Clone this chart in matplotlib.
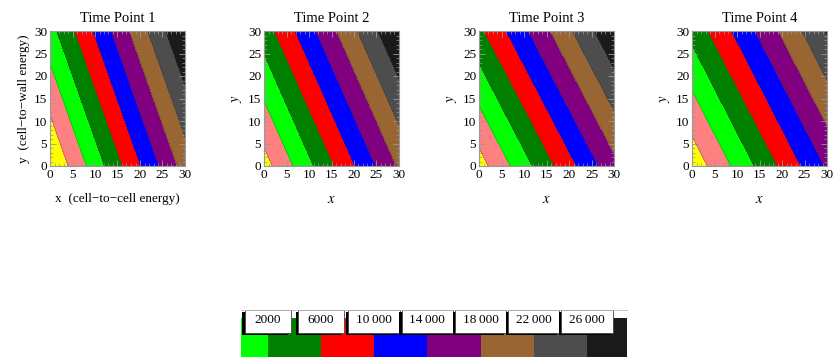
import numpy as np
import matplotlib.pyplot as plt
from matplotlib.colors import ListedColormap, BoundaryNorm
from matplotlib.patches import Rectangle
from matplotlib.ticker import MultipleLocator
import matplotlib.transforms as mtransforms

plt.rcParams['font.family'] = ['Liberation Serif', 'DejaVu Serif']
plt.rcParams['mathtext.fontset'] = 'stix'

W, H = 833, 357

titles = ['Time Point 1', 'Time Point 2', 'Time Point 3', 'Time Point 4']
# energy = a*x + b*y + c for each time point
coef_x = [990, 870, 816, 770]
coef_y = [350, 385, 425, 395]
offset = [0, 2400, 2300, 1350]

levels = [4000, 8000, 12000, 16000, 20000, 24000, 28000, 32000, 36000]
band_colors = ['#FFFF00', '#FF8080', '#00FF00', '#008000', '#FF0000',
               '#0000FF', '#800080', '#996633', '#4D4D4D', '#1A1A1A']

legend_edges = [0, 2000, 6000, 10000, 14000, 18000, 22000, 26000, 29000]
legend_colors = band_colors[2:]
legend_labels = ['2000', '6000', '10\u2009000', '14\u2009000', '18\u2009000',
                 '22\u2009000', '26\u2009000']

# axes left edges in pixels
panel_left = [50, 264, 479, 692]

fig = plt.figure(figsize=(W / 100, H / 100), dpi=100)

x = np.linspace(0, 30, 301)
X, Y = np.meshgrid(x, x)
bounds = [-1e9] + levels + [1e9]
cmap = ListedColormap(band_colors)
norm = BoundaryNorm(bounds, cmap.N)

for i in range(4):
    ax = fig.add_axes([panel_left[i] / W, (H - 166) / H, 135 / W, 135 / H])
    Z = coef_x[i] * X + coef_y[i] * Y + offset[i]
    ax.contourf(X, Y, Z, levels=bounds, cmap=cmap, norm=norm)
    ax.contour(X, Y, Z, levels=levels, colors='#333333', linewidths=0.3, alpha=0.6)
    ax.set_xlim(0, 30)
    ax.set_ylim(0, 30)
    ax.set_xticks([0, 5, 10, 15, 20, 25, 30])
    ax.set_yticks([0, 5, 10, 15, 20, 25, 30])
    ax.xaxis.set_minor_locator(MultipleLocator(1))
    ax.yaxis.set_minor_locator(MultipleLocator(1))
    ax.tick_params(which='both', direction='in', top=True, right=True,
                   color='#999999', labelsize=9.5, pad=2)
    ax.tick_params(which='major', length=4, width=0.6)
    ax.tick_params(which='minor', length=2, width=0.5)
    for s in ax.spines.values():
        s.set_color('#999999')
        s.set_linewidth(0.8)
    ax.set_title(titles[i], fontsize=10.5, pad=6.5)
    if i == 0:
        ax.set_xlabel('x  (cell\u2212to\u2212cell energy)', fontsize=9.5, labelpad=9)
        ax.set_ylabel('y  (cell\u2212to\u2212wall energy)', fontsize=9.5, labelpad=3)
    else:
        ax.set_xlabel('$x$', fontsize=10.5, labelpad=8.5)
        ax.set_ylabel('$y$', fontsize=10.5, labelpad=3)

# legend bar
lax = fig.add_axes([241 / W, 0, 386 / W, 39 / H])
lax.pcolormesh(legend_edges, [0, 1], np.arange(len(legend_colors))[None, :],
               cmap=ListedColormap(legend_colors), shading='flat')
lax.set_xlim(legend_edges[0], legend_edges[-1])
lax.set_ylim(0, 1)
lax.axis('off')

trans = mtransforms.blended_transform_factory(lax.transData, lax.transAxes)
y0 = (H - 333) / 39
y1 = (H - 310) / 39
lax.plot([legend_edges[0], legend_edges[-1]], [y1, y1], color='#bbbbbb', lw=0.6,
         transform=trans, clip_on=False)
for edge, lab in zip(legend_edges[1:-1], legend_labels):
    box_w = 3450 if len(lab) == 4 else 3850
    shadow = Rectangle((edge - box_w / 2 - 180, y0 - 0.04), box_w, y1 - y0,
                       transform=trans, fc='black', ec='none', clip_on=False)
    box = Rectangle((edge - box_w / 2, y0), box_w, y1 - y0, transform=trans,
                    fc='white', ec='#444444', lw=0.6, clip_on=False)
    lax.add_patch(shadow)
    lax.add_patch(box)
    lax.text(edge, (y0 + y1) / 2 + 0.04, lab, transform=trans, ha='center', va='center',
             fontsize=9.5, clip_on=False)

fig.savefig('out.png', dpi=100)
